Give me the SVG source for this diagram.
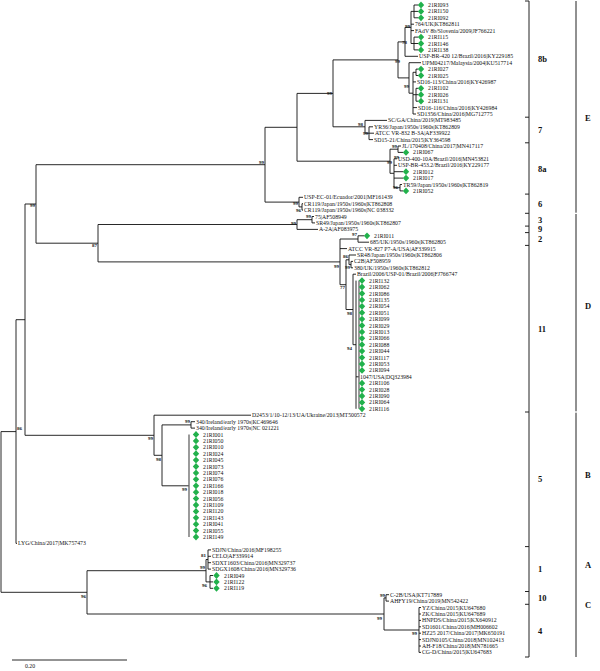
<svg xmlns="http://www.w3.org/2000/svg" xmlns:xlink="http://www.w3.org/1999/xlink" width="600" height="671" viewBox="0 0 600 671">
<style>
.t{font-family:"Liberation Serif","Times New Roman",serif;font-size:5.8px;fill:#111}
.b{font-family:"Liberation Serif","Times New Roman",serif;font-size:5px;fill:#111;text-anchor:end;font-weight:bold}
.c{font-family:"Liberation Serif","Times New Roman",serif;font-size:8.5px;fill:#111;font-weight:bold}
.br{stroke:#111;stroke-width:0.9;fill:none}
.g{stroke:#666;stroke-width:1.3;fill:none}
.k{stroke:#222;stroke-width:1;fill:none}
</style>
<defs>
<path id="dm" d="M0,-3.4L3.2,0L0,3.4L-3.2,0Z" fill="#22b14c"/>
</defs>
<rect width="600" height="671" fill="#fff"/>
<g id="connectors">
<path class="br" d="M414,5V17.8M414,5H418M414,11.4H418M414,17.8H418
M414,37.1V49.9M414,37.1H418M414,43.5H418M414,49.9H418
M411,11.4V43.5M411,11.4H414M411,24.2H414M411,30.6H414M411,43.5H414
M405,27.4V56.3M405,27.4H411M405,56.3H418
M416,69.1V75.5M416,69.1H418M416,75.5H418
M416,88.3V101.2M416,88.3H418M416,94.7H418M416,101.2H418
M413,72.3V114M413,72.3H416M413,81.9H416M413,94.7H416M413,107.6H417M413,114H416
M409,62.7V93.2M409,62.7H421M409,93.2H413
M398,41.9V77.9M398,41.9H405M398,77.9H409
M333,59.9V126.8M333,59.9H398M333,126.8H365
M365,120.4V133.2M365,120.4H387M365,133.2H369
M369,126.8V139.6M369,126.8H373M369,133.2H374M369,139.6H373
M398,146V152.4M398,146H401M398,152.4H403
M400,184.5V190.9M400,184.5H402M400,190.9H403
M394,158.8V187.7M394,158.8H397M394,165.3H397M394,171.7H403M394,178.1H403M394,187.7H400
M390,149.2V173.3M390,149.2H398M390,173.3H394
M297,93.4V161.2M297,93.4H333M297,161.2H390
M302,203.7V210.1M302,203.7H303M302,210.1H303
M299,197.3V206.9M299,197.3H303M299,206.9H302
M265,127.3V202.1M265,127.3H297M265,202.1H299
M312,216.5V222.9M312,216.5H314M312,222.9H315
M297,219.7V229.4M297,219.7H312M297,229.4H318
M358,235.8V242.2M358,235.8H364M358,242.2H369
M351,261.4V267.8M351,261.4H353M351,267.8H353
M349,255V264.6M349,255H356M349,264.6H351
M356,280.6V408.8M356,376.8H359
M353,274.2V344.7M353,274.2H356M353,344.7H356
M346,259.8V309.5M346,259.8H349M346,309.5H353
M340,239V284.7M340,239H358M340,248.6H347M340,284.7H346
M98,224.5V261.9M98,224.5H297M98,261.9H340
M36,164.7V243.2M36,164.7H265M36,243.2H98
M191,421.7V428.1M191,421.7H195M191,428.1H195
M162,424.9V485.8M162,424.9H191M162,485.8H189
M154,415.2V455.3M154,415.2H251M154,455.3H162
M25,204V435.3M25,204H36M25,435.3H154
M16,319.7V543.4M16,319.7H25M16,543.4H17
M208,549.9V569.1M208,549.9H211M208,556.3H211M208,562.7H211M208,569.1H211
M210,575.5V588.3M210,575.5H213M210,581.9H213M210,588.3H213
M206,559.5V581.9M206,559.5H208M206,581.9H210
M386,594.7V601.1M386,594.7H389M386,601.1H389
M419,607.5V652.4M419,607.5H421M419,614H421M419,620.4H421M419,626.8H421M419,633.2H421M419,639.6H421M419,646H421M419,652.4H421
M384,597.9V630M384,597.9H386M384,630H419
M87,570.7V614M87,570.7H206M87,614H384
M1,431.6V592.3M1,431.6H16M1,592.3H87"/>
<path class="g" d="M189,434.5V537M359,280.6V408.8"/>
</g>
<g id="bootstrap">
<text class="b" x="410" y="28">99</text>
<text class="b" x="407" y="44">78</text>
<text class="b" x="400" y="63">99</text>
<text class="b" x="409" y="88">99</text>
<text class="b" x="332" y="95">99</text>
<text class="b" x="363" y="126">98</text>
<text class="b" x="368" y="135">99</text>
<text class="b" x="397" y="148">99</text>
<text class="b" x="399" y="159">99</text>
<text class="b" x="392" y="164">99</text>
<text class="b" x="398" y="189">96</text>
<text class="b" x="264" y="164">99</text>
<text class="b" x="298" y="205">99</text>
<text class="b" x="301" y="212">96</text>
<text class="b" x="311" y="218">99</text>
<text class="b" x="296" y="225">99</text>
<text class="b" x="357" y="236">97</text>
<text class="b" x="339" y="268">99</text>
<text class="b" x="348" y="258">86</text>
<text class="b" x="350" y="269">99</text>
<text class="b" x="345" y="289">77</text>
<text class="b" x="352" y="315">98</text>
<text class="b" x="352" y="350">94</text>
<text class="b" x="97" y="247">87</text>
<text class="b" x="35" y="207">99</text>
<text class="b" x="153" y="440">99</text>
<text class="b" x="161" y="461">98</text>
<text class="b" x="190" y="423">99</text>
<text class="b" x="187" y="491">99</text>
<text class="b" x="22" y="430">86</text>
<text class="b" x="86" y="598">96</text>
<text class="b" x="205" y="569">99</text>
<text class="b" x="206" y="557">81</text>
<text class="b" x="207" y="587">96</text>
<text class="b" x="382" y="620">99</text>
<text class="b" x="385" y="597">99</text>
<text class="b" x="417" y="635">99</text>
</g>
<g id="n0"><use xlink:href="#dm" x="421" y="5"/><text class="t" x="428" y="7">21RI093</text></g>
<g id="n1"><use xlink:href="#dm" x="421" y="11.4"/><text class="t" x="428" y="13.4">21RI150</text></g>
<g id="n2"><use xlink:href="#dm" x="421" y="17.8"/><text class="t" x="428" y="19.8">21RI092</text></g>
<g id="n3"><text class="t" x="415" y="26.2">764/UK|KT862811</text></g>
<g id="n4"><text class="t" x="415" y="32.6">FAdV 8b/Slovenia/2009|JF766221</text></g>
<g id="n5"><use xlink:href="#dm" x="421" y="37.1"/><text class="t" x="428" y="39.1">21RI115</text></g>
<g id="n6"><use xlink:href="#dm" x="421" y="43.5"/><text class="t" x="428" y="45.5">21RI146</text></g>
<g id="n7"><use xlink:href="#dm" x="421" y="49.9"/><text class="t" x="428" y="51.9">21RI138</text></g>
<g id="n8"><text class="t" x="419" y="58.3">USP-BR-420 12/Brazil/2016|KY229185</text></g>
<g id="n9"><text class="t" x="422" y="64.7">UPM04217/Malaysia/2004|KU517714</text></g>
<g id="n10"><use xlink:href="#dm" x="421" y="69.1"/><text class="t" x="428" y="71.1">21RI027</text></g>
<g id="n11"><use xlink:href="#dm" x="421" y="75.5"/><text class="t" x="428" y="77.5">21RI025</text></g>
<g id="n12"><text class="t" x="417" y="83.9">SD16-113/China/2016|KY426987</text></g>
<g id="n13"><use xlink:href="#dm" x="421" y="88.3"/><text class="t" x="428" y="90.3">21RI102</text></g>
<g id="n14"><use xlink:href="#dm" x="421" y="94.7"/><text class="t" x="428" y="96.7">21RI026</text></g>
<g id="n15"><use xlink:href="#dm" x="421" y="101.2"/><text class="t" x="428" y="103.2">21RI131</text></g>
<g id="n16"><text class="t" x="418" y="109.6">SD16-116/China/2016|KY426984</text></g>
<g id="n17"><text class="t" x="417" y="116">SD1356/China/2016|MG712775</text></g>
<g id="n18"><text class="t" x="388" y="122.4">SC/GA/China/2019|MT983485</text></g>
<g id="n19"><text class="t" x="374" y="128.8">YR36/Japan/1950s/1960s|KT862809</text></g>
<g id="n20"><text class="t" x="375" y="135.2">ATCC VR-832 B-3A|AF339922</text></g>
<g id="n21"><text class="t" x="374" y="141.6">SD15-21/China/2015|KY364598</text></g>
<g id="n22"><text class="t" x="402" y="148">JL/170408/China/2017|MN417117</text></g>
<g id="n23"><use xlink:href="#dm" x="406" y="152.4"/><text class="t" x="413" y="154.4">21RI067</text></g>
<g id="n24"><text class="t" x="398" y="160.8">USD-400-10A/Brazil/2016|MN453821</text></g>
<g id="n25"><text class="t" x="398" y="167.3">USP-BR-453.2/Brazil/2016|KY229177</text></g>
<g id="n26"><use xlink:href="#dm" x="406" y="171.7"/><text class="t" x="413" y="173.7">21RI012</text></g>
<g id="n27"><use xlink:href="#dm" x="406" y="178.1"/><text class="t" x="413" y="180.1">21RI017</text></g>
<g id="n28"><text class="t" x="403" y="186.5">TR59/Japan/1950s/1960s|KT862819</text></g>
<g id="n29"><use xlink:href="#dm" x="406" y="190.9"/><text class="t" x="413" y="192.9">21RI052</text></g>
<g id="n30"><text class="t" x="304" y="199.3">USP-EC-01/Ecuador/2001|MF161439</text></g>
<g id="n31"><text class="t" x="304" y="205.7">CR119/Japan/1950s/1960s|KT862808</text></g>
<g id="n32"><text class="t" x="304" y="212.1">CR119/Japan/1950s/1960s|NC 038332</text></g>
<g id="n33"><text class="t" x="315" y="218.5">75|AF508949</text></g>
<g id="n34"><text class="t" x="316" y="224.9">SR49/Japan/1950s/1960s|KT862807</text></g>
<g id="n35"><text class="t" x="319" y="231.4">A-2A|AF083975</text></g>
<g id="n36"><use xlink:href="#dm" x="367" y="235.8"/><text class="t" x="374" y="237.8">21RI011</text></g>
<g id="n37"><text class="t" x="370" y="244.2">685/UK/1950s/1960s|KT862805</text></g>
<g id="n38"><text class="t" x="348" y="250.6">ATCC VR-827 P7-A/USA|AF339915</text></g>
<g id="n39"><text class="t" x="357" y="257">SR48/Japan/1950s/1960s|KT862806</text></g>
<g id="n40"><text class="t" x="354" y="263.4">C2B|AF508959</text></g>
<g id="n41"><text class="t" x="354" y="269.8">380/UK/1950s/1960s|KT862812</text></g>
<g id="n42"><text class="t" x="357" y="276.2">Brazil/2006/USP-01/Brazil/2006|FJ766747</text></g>
<g id="n43"><use xlink:href="#dm" x="362" y="280.6"/><text class="t" x="369" y="282.6">21RI132</text></g>
<g id="n44"><use xlink:href="#dm" x="362" y="287"/><text class="t" x="369" y="289">21RI062</text></g>
<g id="n45"><use xlink:href="#dm" x="362" y="293.5"/><text class="t" x="369" y="295.5">21RI086</text></g>
<g id="n46"><use xlink:href="#dm" x="362" y="299.9"/><text class="t" x="369" y="301.9">21RI135</text></g>
<g id="n47"><use xlink:href="#dm" x="362" y="306.3"/><text class="t" x="369" y="308.3">21RI054</text></g>
<g id="n48"><use xlink:href="#dm" x="362" y="312.7"/><text class="t" x="369" y="314.7">21RI051</text></g>
<g id="n49"><use xlink:href="#dm" x="362" y="319.1"/><text class="t" x="369" y="321.1">21RI099</text></g>
<g id="n50"><use xlink:href="#dm" x="362" y="325.5"/><text class="t" x="369" y="327.5">21RI029</text></g>
<g id="n51"><use xlink:href="#dm" x="362" y="331.9"/><text class="t" x="369" y="333.9">21RI013</text></g>
<g id="n52"><use xlink:href="#dm" x="362" y="338.3"/><text class="t" x="369" y="340.3">21RI066</text></g>
<g id="n53"><use xlink:href="#dm" x="362" y="344.7"/><text class="t" x="369" y="346.7">21RI088</text></g>
<g id="n54"><use xlink:href="#dm" x="362" y="351.1"/><text class="t" x="369" y="353.1">21RI044</text></g>
<g id="n55"><use xlink:href="#dm" x="362" y="357.6"/><text class="t" x="369" y="359.6">21RI117</text></g>
<g id="n56"><use xlink:href="#dm" x="362" y="364"/><text class="t" x="369" y="366">21RI053</text></g>
<g id="n57"><use xlink:href="#dm" x="362" y="370.4"/><text class="t" x="369" y="372.4">21RI094</text></g>
<g id="n58"><text class="t" x="360" y="378.8">1047/USA|DQ323984</text></g>
<g id="n59"><use xlink:href="#dm" x="362" y="383.2"/><text class="t" x="369" y="385.2">21RI106</text></g>
<g id="n60"><use xlink:href="#dm" x="362" y="389.6"/><text class="t" x="369" y="391.6">21RI028</text></g>
<g id="n61"><use xlink:href="#dm" x="362" y="396"/><text class="t" x="369" y="398">21RI090</text></g>
<g id="n62"><use xlink:href="#dm" x="362" y="402.4"/><text class="t" x="369" y="404.4">21RI064</text></g>
<g id="n63"><use xlink:href="#dm" x="362" y="408.8"/><text class="t" x="369" y="410.8">21RI116</text></g>
<g id="n64"><text class="t" x="252" y="417.2">D2453/1/10-12/13/UA/Ukraine/2013|MT500572</text></g>
<g id="n65"><text class="t" x="196" y="423.7">340/Ireland/early 1970s|KC469646</text></g>
<g id="n66"><text class="t" x="196" y="430.1">340/Ireland/early 1970s|NC 021221</text></g>
<g id="n67"><use xlink:href="#dm" x="196" y="434.5"/><text class="t" x="203" y="436.5">21RI001</text></g>
<g id="n68"><use xlink:href="#dm" x="196" y="440.9"/><text class="t" x="203" y="442.9">21RI050</text></g>
<g id="n69"><use xlink:href="#dm" x="196" y="447.3"/><text class="t" x="203" y="449.3">21RI010</text></g>
<g id="n70"><use xlink:href="#dm" x="196" y="453.7"/><text class="t" x="203" y="455.7">21RI024</text></g>
<g id="n71"><use xlink:href="#dm" x="196" y="460.1"/><text class="t" x="203" y="462.1">21RI045</text></g>
<g id="n72"><use xlink:href="#dm" x="196" y="466.5"/><text class="t" x="203" y="468.5">21RI073</text></g>
<g id="n73"><use xlink:href="#dm" x="196" y="472.9"/><text class="t" x="203" y="474.9">21RI074</text></g>
<g id="n74"><use xlink:href="#dm" x="196" y="479.3"/><text class="t" x="203" y="481.3">21RI076</text></g>
<g id="n75"><use xlink:href="#dm" x="196" y="485.8"/><text class="t" x="203" y="487.8">21RI166</text></g>
<g id="n76"><use xlink:href="#dm" x="196" y="492.2"/><text class="t" x="203" y="494.2">21RI018</text></g>
<g id="n77"><use xlink:href="#dm" x="196" y="498.6"/><text class="t" x="203" y="500.6">21RI056</text></g>
<g id="n78"><use xlink:href="#dm" x="196" y="505"/><text class="t" x="203" y="507">21RI109</text></g>
<g id="n79"><use xlink:href="#dm" x="196" y="511.4"/><text class="t" x="203" y="513.4">21RI120</text></g>
<g id="n80"><use xlink:href="#dm" x="196" y="517.8"/><text class="t" x="203" y="519.8">21RI143</text></g>
<g id="n81"><use xlink:href="#dm" x="196" y="524.2"/><text class="t" x="203" y="526.2">21RI041</text></g>
<g id="n82"><use xlink:href="#dm" x="196" y="530.6"/><text class="t" x="203" y="532.6">21RI055</text></g>
<g id="n83"><use xlink:href="#dm" x="196" y="537"/><text class="t" x="203" y="539">21RI149</text></g>
<g id="n84"><text class="t" x="18" y="545.4">LYG/China/2017|MK757473</text></g>
<g id="n85"><text class="t" x="212" y="551.9">SDJN/China/2016|MF198255</text></g>
<g id="n86"><text class="t" x="212" y="558.3">CELO|AF339914</text></g>
<g id="n87"><text class="t" x="212" y="564.7">SDXT1603/China/2016|MN329737</text></g>
<g id="n88"><text class="t" x="212" y="571.1">SDGX1608/China/2016|MN329736</text></g>
<g id="n89"><use xlink:href="#dm" x="216.5" y="575.5"/><text class="t" x="224" y="577.5">21RI049</text></g>
<g id="n90"><use xlink:href="#dm" x="216.5" y="581.9"/><text class="t" x="224" y="583.9">21RI122</text></g>
<g id="n91"><use xlink:href="#dm" x="216.5" y="588.3"/><text class="t" x="224" y="590.3">21RI119</text></g>
<g id="n92"><text class="t" x="390" y="596.7">C-2B/USA|KT717889</text></g>
<g id="n93"><text class="t" x="390" y="603.1">AHFY19/China/2019|MN542422</text></g>
<g id="n94"><text class="t" x="422" y="609.5">YZ/China/2015|KU647680</text></g>
<g id="n95"><text class="t" x="422" y="616">ZK/China/2015|KU647689</text></g>
<g id="n96"><text class="t" x="422" y="622.4">HNPDS/China/2015|KX640912</text></g>
<g id="n97"><text class="t" x="422" y="628.8">SD1601/China/2016|MH006602</text></g>
<g id="n98"><text class="t" x="422" y="635.2">HZ25 2017/China/2017|MK650191</text></g>
<g id="n99"><text class="t" x="422" y="641.6">SDJN0105/China/2018|MN102413</text></g>
<g id="n100"><text class="t" x="422" y="648">AH-F18/China/2018|MN781665</text></g>
<g id="n101"><text class="t" x="422" y="654.4">CG-D/China/2015|KU647683</text></g>
<g id="types">
<path class="k" d="M529,1V657M525,1H529M525,117.2H529M525,142.8H529M525,194.1H529M525,213.3H529M525,226.1H529M525,232.6H529M525,245.4H529M525,412H529M525,546.6H529M525,591.5H529M525,604.3H529M525,657H529"/>
<text class="c" x="538" y="62">8b</text>
<text class="c" x="538" y="133">7</text>
<text class="c" x="538" y="171.5">8a</text>
<text class="c" x="538" y="206.7">6</text>
<text class="c" x="538" y="222.5">3</text>
<text class="c" x="538" y="232">9</text>
<text class="c" x="538" y="242">2</text>
<text class="c" x="538" y="331.7">11</text>
<text class="c" x="538" y="482">5</text>
<text class="c" x="538" y="572">1</text>
<text class="c" x="538" y="601">10</text>
<text class="c" x="538" y="633.5">4</text>
</g>
<g id="species">
<path class="k" d="M576,1V212.7M576,214V411.3M576,412.7V657"/>
<text class="c" x="585" y="121">E</text>
<text class="c" x="585" y="309">D</text>
<text class="c" x="585" y="478">B</text>
<text class="c" x="585" y="568">A</text>
<text class="c" x="585" y="608">C</text>
</g>
<g id="scale">
<path class="br" d="M12,660H127"/>
<text class="t" x="30" y="668" text-anchor="middle">0.20</text>
</g>
</svg>
